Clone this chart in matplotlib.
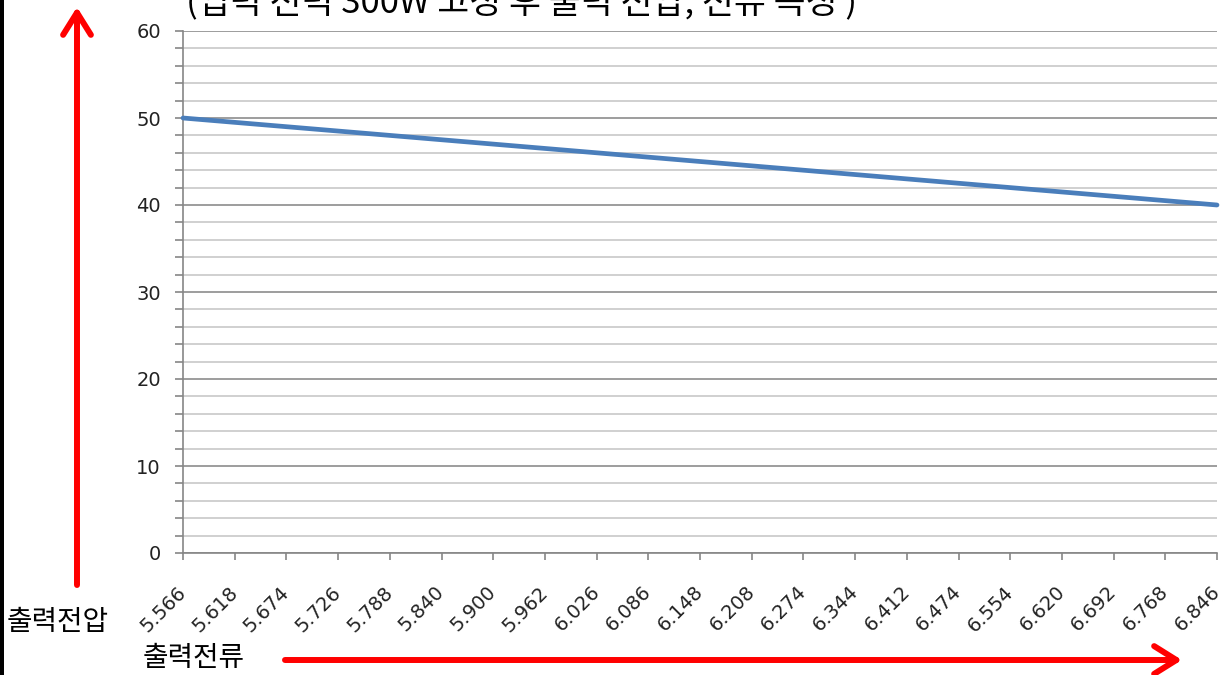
import matplotlib
matplotlib.use('Agg')
import matplotlib.pyplot as plt
from matplotlib.patches import FancyArrowPatch, Rectangle
from matplotlib.ticker import MultipleLocator

plt.rcParams['font.family'] = ['DejaVu Sans', 'Noto Sans CJK KR']
KR = ['Noto Sans CJK KR', 'DejaVu Sans']

# 출력전류 (A) - x축 항목
current = ['5.566', '5.618', '5.674', '5.726', '5.788', '5.840', '5.900',
           '5.962', '6.026', '6.086', '6.148', '6.208', '6.274', '6.344',
           '6.412', '6.474', '6.554', '6.620', '6.692', '6.768', '6.846']
# 출력전압 (V)
voltage = [50.0, 49.5, 49.0, 48.5, 48.0, 47.5, 47.0, 46.5, 46.0, 45.5, 45.0,
           44.5, 44.0, 43.5, 43.0, 42.5, 42.0, 41.5, 41.0, 40.5, 40.0]
title = '(입력 전력 300W 고정 후 출력 전압, 전류 측정 )'

W, H = 1222, 675
fig = plt.figure(figsize=(W / 100, H / 100), dpi=100)
ax = fig.add_axes([183 / W, 1 - 553 / H, (1217 - 183) / W, (553 - 31) / H])

x = list(range(len(current)))
ax.plot(x, voltage, color='#4a7ebb', lw=3.4, clip_on=False, zorder=3,
        solid_capstyle='round')

ax.set_xlim(0, len(current) - 1)
ax.set_ylim(0, 60)
ax.yaxis.set_major_locator(MultipleLocator(10))
ax.yaxis.set_minor_locator(MultipleLocator(2))
ax.set_xticks(x)
ax.set_xticklabels(current, rotation=45, ha='right', va='center',
                   rotation_mode='anchor', fontsize=14, color='#222222')
for lab in ax.get_xticklabels() + ax.get_yticklabels():
    lab.set_fontfamily('DejaVu Sans')

ax.grid(axis='y', which='major', color='#8c8c8c', lw=1.2)
ax.grid(axis='y', which='minor', color='#c8c8c8', lw=1.2)
ax.set_axisbelow(True)

for s in ['top', 'right']:
    ax.spines[s].set_visible(False)
for s in ['left', 'bottom']:
    ax.spines[s].set_color('#868686')
    ax.spines[s].set_linewidth(1.2)

ax.tick_params(axis='y', which='both', length=6, width=1.2, color='#868686',
               labelsize=14, labelcolor='#222222', pad=10)
ax.tick_params(axis='x', length=5, width=1.2, color='#868686', pad=21)

# 제목 (원본처럼 위쪽이 잘려 있음)
fig.text(522 / W, 1 - 12 / H, title, ha='center', va='baseline',
         fontsize=25, family=KR)

# 축 이름
fig.text(7 / W, 1 - 622 / H, '출력전압', ha='left', va='center',
         fontsize=20, family=KR)
fig.text(143 / W, 1 - 658 / H, '출력전류', ha='left', va='center',
         fontsize=20, family=KR)

# 빨간 화살표
style = '->,head_length=0.8,head_width=0.5'
fig.add_artist(FancyArrowPatch((77 / W, 1 - 585 / H), (77 / W, 1 - 7 / H),
                               transform=fig.transFigure, arrowstyle=style,
                               mutation_scale=20, color='red', lw=4.3,
                               shrinkA=0, shrinkB=0))
fig.add_artist(FancyArrowPatch((285 / W, 1 - 660 / H), (1182 / W, 1 - 660 / H),
                               transform=fig.transFigure, arrowstyle=style,
                               mutation_scale=20, color='red', lw=4.3,
                               shrinkA=0, shrinkB=0))

# 왼쪽 검은 테두리
fig.add_artist(Rectangle((0, 0), 4 / W, 1, transform=fig.transFigure,
                         color='black', lw=0))

fig.savefig('out.png', dpi=100)
